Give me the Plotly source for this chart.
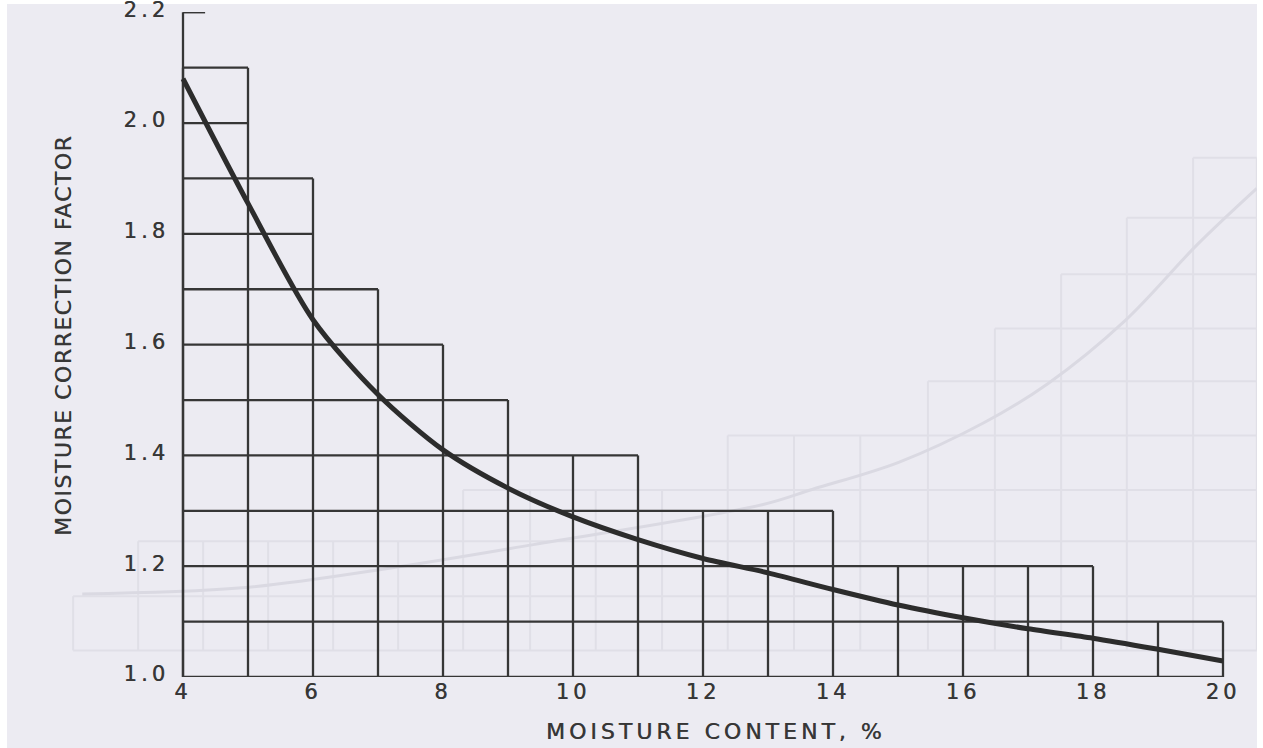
import plotly.graph_objects as go

# ---------------- data ----------------
bin_left = [4, 5, 6, 7, 8, 9, 10, 11, 12, 13, 14, 15, 16, 17, 18, 19]
bin_width = 1
step_heights = [2.1, 1.9, 1.7, 1.6, 1.5, 1.4, 1.4, 1.3, 1.3, 1.3, 1.2, 1.2, 1.2, 1.2, 1.1, 1.1]
grid_step = 0.1

curve_x = [4, 5, 6, 7, 8, 9, 10, 11, 12, 13, 14, 15, 16, 17, 18, 19, 20]
curve_y = [2.08, 1.855, 1.645, 1.51, 1.41, 1.341, 1.289, 1.248, 1.214, 1.188,
           1.158, 1.13, 1.107, 1.087, 1.07, 1.05, 1.029]

x_ticks = [4, 6, 8, 10, 12, 14, 16, 18, 20]
x_tick_labels = ["4", "6", "8", "10", "12", "14", "16", "18", "20"]
y_ticks = [1.0, 1.2, 1.4, 1.6, 1.8, 2.0, 2.2]
y_tick_labels = ["1.0", "1.2", "1.4", "1.6", "1.8", "2.0", "2.2"]

x_title = "MOISTURE CONTENT, %"
y_title = "MOISTURE CORRECTION FACTOR"

# faint chart showing through from the back of the scanned page
ghost_edges = [2.31, 3.31, 4.31, 5.31, 6.31, 7.31, 8.31, 9.34, 10.35, 11.37,
               12.38, 13.40, 14.42, 15.46, 16.49, 17.51, 18.52, 19.54, 20.52]
ghost_heights = [1.146, 1.245, 1.245, 1.245, 1.245, 1.245, 1.3375, 1.3375, 1.3375,
                 1.3375, 1.436, 1.436, 1.436, 1.534, 1.629, 1.727, 1.829, 1.9375]
ghost_levels = [1.048, 1.146, 1.245, 1.3375, 1.436, 1.534, 1.629, 1.727, 1.829, 1.9375]
ghost_curve_x = [2.45, 4.91, 7.15, 9.39, 12.91, 13.69, 15.02, 16.32, 17.31, 18.49, 19.6, 20.52]
ghost_curve_y = [1.15, 1.161, 1.196, 1.239, 1.311, 1.339, 1.388, 1.459, 1.53, 1.643, 1.78, 1.882]

# ---------------- styles / layout ----------------
W, H = 1263, 748
ML, MR, MT, MB = 7, 6, 12, 71
PW, PH = W - ML - MR, H - MT - MB
AXIS_PX = 183           # pixel where x = 4 sits
UNIT_PX = 65.0          # pixels per x unit
BG = "#ecebf2"
INK = "#363636"
GHOST = "#e0dfe7"
GHOST_CURVE = "#dad9e2"
FONT = "DejaVu Sans"

x_min, x_max = x_ticks[0], x_ticks[-1]
y_min, y_max = y_ticks[0], y_ticks[-1]
x_lo = x_min - (AXIS_PX - ML) / UNIT_PX
x_hi = x_lo + PW / UNIT_PX


def px_to_paper_x(px):
    return (px - ML) / PW


def py_to_paper_y(py):
    return (H - MB - py) / PH


# ---------------- ghost grid ----------------
hx, hy = [], []
for i, e in enumerate(ghost_edges):
    hs = []
    if i - 1 >= 0:
        hs.append(ghost_heights[i - 1])
    if i < len(ghost_heights):
        hs.append(ghost_heights[i])
    hx += [e, e, None]
    hy += [ghost_levels[0], max(hs), None]
for lvl in ghost_levels:
    left = None
    for j, h in enumerate(ghost_heights):
        if h >= lvl - 1e-9:
            left = ghost_edges[j]
            break
    if left is not None:
        hx += [left, ghost_edges[-1], None]
        hy += [lvl, lvl, None]

# ---------------- main grid of boxes built from the step heights ----------------
gx, gy = [], []
edges = bin_left + [bin_left[-1] + bin_width]
for i, e in enumerate(edges):
    hs = []
    if i - 1 >= 0:
        hs.append(step_heights[i - 1])
    if i < len(step_heights):
        hs.append(step_heights[i])
    gx += [e, e, None]
    gy += [y_min, max(hs), None]
n_levels = int(round((max(step_heights) - y_min) / grid_step)) + 1
for k in range(n_levels):
    lvl = round(y_min + k * grid_step, 1)
    right = None
    for left, h in zip(bin_left, step_heights):
        if h >= lvl - 1e-9:
            right = left + bin_width
    if right is not None:
        gx += [bin_left[0], right, None]
        gy += [lvl, lvl, None]
# left axis up to the top tick, with a short tick mark
gx += [x_min, x_min, None, x_min, x_min + 0.34, None]
gy += [y_min, y_max, None, y_max, y_max, None]

fig = go.Figure()
fig.add_trace(go.Scatter(x=hx, y=hy, mode="lines", line=dict(color=GHOST, width=2),
                         hoverinfo="skip", showlegend=False))
fig.add_trace(go.Scatter(x=ghost_curve_x, y=ghost_curve_y, mode="lines",
                         line=dict(color=GHOST_CURVE, width=3, shape="spline", smoothing=1),
                         hoverinfo="skip", showlegend=False))
fig.add_trace(go.Scatter(x=gx, y=gy, mode="lines",
                         line=dict(color=INK, width=2.3),
                         hoverinfo="skip", showlegend=False))
fig.add_trace(go.Scatter(x=curve_x, y=curve_y, mode="lines",
                         line=dict(color="#2c2c2c", width=5, shape="spline", smoothing=0.8),
                         showlegend=False))


def spaced(t, sp):
    return f'<span style="letter-spacing:{sp}px">{t}</span>'


SHADOW = "0.5px 0px 0.6px rgba(54,54,54,0.8)"

fig.update_layout(
    width=W, height=H,
    margin=dict(l=ML, r=MR, t=MT, b=MB, pad=0, autoexpand=False),
    paper_bgcolor="white",
    plot_bgcolor="rgba(0,0,0,0)",
    font=dict(family=FONT, color=INK, size=21),
    xaxis=dict(range=[x_lo, x_hi], tickvals=x_ticks,
               ticktext=[spaced(t, 4) for t in x_tick_labels],
               showgrid=False, zeroline=False, showline=False, ticks="",
               ticklabelstandoff=0, ticklabeloverflow="allow", automargin=False,
               tickfont=dict(family=FONT, size=21, color=INK, shadow=SHADOW)),
    yaxis=dict(range=[y_min, y_max + 0.0005], tickvals=y_ticks,
               ticktext=[spaced(t, 4) for t in y_tick_labels],
               anchor="free", position=px_to_paper_x(AXIS_PX),
               showgrid=False, zeroline=False, showline=False, ticks="",
               ticklabelstandoff=14, ticklabelshift=-3,
               ticklabeloverflow="allow", automargin=False,
               tickfont=dict(family=FONT, size=21, color=INK, shadow=SHADOW)),
    shapes=[
        dict(type="rect", xref="paper", yref="paper", layer="below",
             x0=0, x1=1, y0=py_to_paper_y(H), y1=py_to_paper_y(4),
             fillcolor=BG, line=dict(width=0)),
    ],
    annotations=[
        dict(text=spaced(x_title, 4), xref="paper", yref="paper",
             x=px_to_paper_x(716), y=py_to_paper_y(731),
             xanchor="center", yanchor="middle", showarrow=False,
             font=dict(family=FONT, size=22, color=INK, shadow=SHADOW)),
        dict(text=spaced(y_title, 1.5), xref="paper", yref="paper",
             x=px_to_paper_x(63), y=py_to_paper_y(336), textangle=-90,
             xanchor="center", yanchor="middle", showarrow=False,
             font=dict(family=FONT, size=22, color=INK, shadow=SHADOW)),
    ],
)

fig.write_html("out.html")
